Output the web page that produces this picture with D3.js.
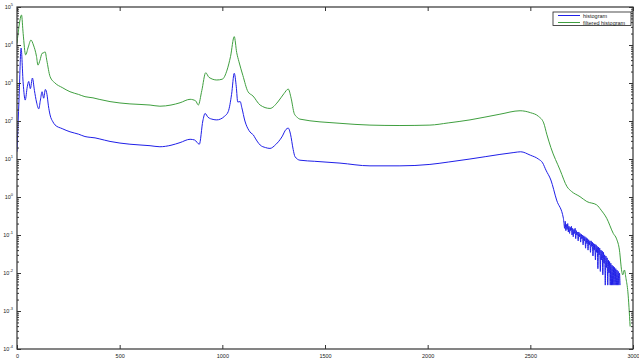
<!DOCTYPE html>
<html><head><meta charset="utf-8">
<script src="https://cdn.jsdelivr.net/npm/d3@7"></script>
<style>body{margin:0;background:#fff}svg{display:block}text{font-family:"Liberation Sans",Arial,sans-serif;fill:#222}</style>
</head><body><svg id="c" width="639" height="364"></svg>
<script>
// ---- data ----
const seriesNames = ["histogram", "filtered histogram"];
const seriesColors = ["#1f1fe8", "#3f9f3f"];
const xTicks = [0, 500, 1000, 1500, 2000, 2500, 3000];
const yExponents = [-4, -3, -2, -1, 0, 1, 2, 3, 4, 5];

const histX = [0,10,20,30,40,50,57,65,75,85,95,106,114,122,130,138,146,153,161,175,185,220,258,300,331,360,380,400,453,550,648,696,750,794,843,865,888,905,916,930,955,973,990,1010,1029,1045,1058,1068,1075,1087,1095,1110,1130,1140,1151,1160,1184,1210,1232,1260,1290,1310,1321,1332,1345,1354,1378,1450,1573,1719,1865,2011,2100,2206,2280,2352,2420,2453,2500,2539,2560,2576,2600,2628,2661,
2664,2667,2670,2673,2676,2679,2682,2685,2688,2691,2694,2697,2700,2703,2706,2709,2712,2715,2718,2721,2724,2727,2730,2733,2736,2739,2742,2745,2748,2751,2754,2757,2760,2763,2766,2769,2772,2775,2778,2781,2784,2787,2790,2793,2796,2799,2802,2805,2808,2811,2814,2817,2820,2823,2826,2829,2832,2835,2838,2841,2844,2847,2850,2853,2856,2859,2862,2865,2868,2871,2874,2877,2880,2883,2886,2889,2892,2895,2898,2901,2904,2907,2910,2913,2916,2919,2922,2925,2928,2931,2934,2937];
const histY = [15.5,398,8300,1000,355,794,1100,708,1350,631,316,209,355,589,398,676,501,251,145,95,79,63,52,45,39,37,36,34,29,24.5,22.4,21,23,27,33,31.6,24.5,100,158,126,110,107,112,132,178,501,1800,794,316,324,224,100,56,48,43,35.5,23.4,20,19,24,38,60,65,45,17.8,11.5,9.3,8.7,7.8,6.6,6.6,7.2,8.3,10,11.5,13.2,14.8,15.5,12.6,10,7.9,5.1,2.8,0.83,0.275,
0.2,0.15,0.23,0.13,0.19,0.14,0.2,0.12,0.17,0.11,0.16,0.13,0.17,0.1,0.15,0.09,0.14,0.11,0.15,0.08,0.13,0.1,0.12,0.07,0.12,0.09,0.11,0.065,0.105,0.08,0.1,0.055,0.095,0.07,0.09,0.045,0.085,0.06,0.08,0.04,0.075,0.055,0.07,0.035,0.07,0.05,0.065,0.028,0.06,0.04,0.058,0.022,0.055,0.035,0.05,0.013,0.048,0.03,0.045,0.011,0.04,0.022,0.038,0.009,0.035,0.018,0.03,0.0048,0.028,0.014,0.025,0.0048,0.022,0.01,0.02,0.0048,0.018,0.0048,0.016,0.0048,0.015,0.0048,0.014,0.0048,0.013,0.0048,0.012,0.0048,0.011,0.0048,0.01,0.0048];

const filtX = [0,10,22,30,42,55,68,80,95,102,112,122,132,137,145,161,185,220,258,300,331,370,400,453,550,648,696,750,794,843,870,883,900,919,935,973,1000,1023,1040,1058,1070,1081,1100,1125,1149,1184,1232,1270,1300,1321,1335,1350,1362,1378,1573,1719,1865,2011,2100,2206,2352,2450,2500,2540,2565,2580,2600,2645,2679,2700,2742,2775,2823,2845,2872,2904,2920,2934,2945,2950,2958,2966,2975,2986];
const filtY = [11000,31600,61700,20000,5500,8900,13500,10000,5000,2950,3980,6030,6310,6600,3980,1480,1000,760,590,500,437,407,372,324,282,263,245,263,302,372,339,263,631,1860,1410,1200,1260,2190,5010,16600,6310,3630,1580,590,457,263,214,316,525,692,398,158,129,112,87,78,76,78,89,107,151,186,166,132,89,45,20,5.1,1.86,1.41,1.02,0.76,0.62,0.45,0.275,0.11,0.079,0.04,0.0112,0.0089,0.012,0.0071,0.0032,0.00039];

// ---- layout ----
const W = 639, H = 364;
const m = {left: 17, right: 6, top: 7, bottom: 15};
const svg = d3.select("#c");
const x = d3.scaleLinear().domain([0, 3000]).range([m.left, W - m.right]);
const y = d3.scaleLog().domain([1e-4, 1e5]).range([H - m.bottom, m.top]);

svg.append("defs").append("clipPath").attr("id","clip").append("rect")
  .attr("x", m.left).attr("y", m.top).attr("width", W-m.left-m.right).attr("height", H-m.top-m.bottom);
const plot = svg.append("g").attr("clip-path","url(#clip)");

// lines
const series = [histX.map((v,i)=>[v,histY[i]]), filtX.map((v,i)=>[v,filtY[i]])];
series.forEach((s,i)=>{
  const line = d3.line().x(d=>x(d[0])).y(d=>y(d[1])).curve(d3.curveMonotoneX);
  plot.append("path").datum(s)
    .attr("fill","none").attr("stroke",seriesColors[i]).attr("stroke-width",1)
    .attr("stroke-linejoin","round")
    .attr("d", line);
});

// axes (ticks inward)
const minorVals = [];
yExponents.slice(0,-1).forEach(e=>{ for(let k=2;k<=9;k++) minorVals.push(k*Math.pow(10,e)); });
const axisCol = "#333";
function styleAxis(g){ g.select(".domain").remove(); g.selectAll("line").attr("stroke",axisCol); }

const yMajor = yExponents.map(e=>Math.pow(10,e));
const xB = svg.append("g").attr("transform",`translate(0,${H-m.bottom})`)
  .call(d3.axisBottom(x).tickValues(xTicks).tickSizeInner(-4).tickSizeOuter(0).tickPadding(5).tickFormat(d3.format("d")));
styleAxis(xB); xB.selectAll("text").attr("font-size",5.5).attr("fill","#222");
const xT = svg.append("g").attr("transform",`translate(0,${m.top})`)
  .call(d3.axisTop(x).tickValues(xTicks).tickSizeInner(-4).tickSizeOuter(0).tickFormat(""));
styleAxis(xT);

[[m.left, d3.axisLeft], [W-m.right, d3.axisRight]].forEach(([tx, ax])=>{
  const gM = svg.append("g").attr("transform",`translate(${tx},0)`)
    .call(ax(y).tickValues(yMajor).tickSizeInner(-4).tickSizeOuter(0).tickFormat(""));
  styleAxis(gM);
  const gm = svg.append("g").attr("transform",`translate(${tx},0)`)
    .call(ax(y).tickValues(minorVals).tickSizeInner(-2).tickSizeOuter(0).tickFormat(""));
  styleAxis(gm);
});

// y labels 10^e
yExponents.forEach(e=>{
  const t = svg.append("text").attr("x", 13).attr("y", y(Math.pow(10,e)) + 2)
    .attr("text-anchor","end").attr("font-size",5.5);
  t.append("tspan").text("10");
  t.append("tspan").attr("dy",-3).attr("font-size",4).text(e);
});

// frame
svg.append("rect").attr("x",m.left).attr("y",m.top).attr("width",W-m.left-m.right).attr("height",H-m.top-m.bottom)
  .attr("fill","none").attr("stroke",axisCol).attr("stroke-width",1.2);

// legend
const lg = svg.append("g");
lg.append("rect").attr("x",553).attr("y",12).attr("width",78).attr("height",13.5)
  .attr("fill","#fff").attr("stroke","#222").attr("stroke-width",0.8);
seriesNames.forEach((n,i)=>{
  const yy = 15.5 + i*7;
  lg.append("line").attr("x1",558).attr("x2",580).attr("y1",yy).attr("y2",yy)
    .attr("stroke",seriesColors[i]).attr("stroke-width",1);
  lg.append("text").attr("x",583).attr("y",yy+2).attr("font-size",5.5).text(n);
});
</script></body></html>
